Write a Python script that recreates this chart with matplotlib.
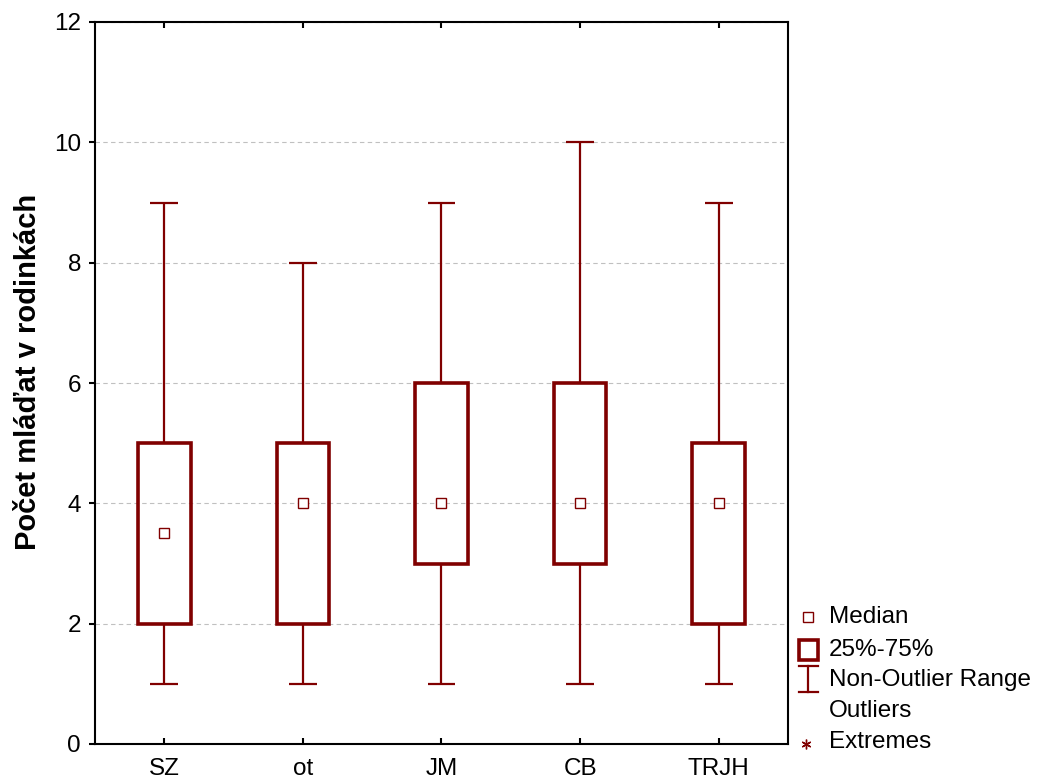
import matplotlib.pyplot as plt
from matplotlib.patches import Rectangle
from matplotlib.lines import Line2D

plt.rcParams['font.family'] = ['Liberation Sans', 'DejaVu Sans']

groups = ["SZ", "ot", "JM", "CB", "TRJH"]
medians = [3.5, 4, 4, 4, 4]
q1 = [2, 2, 3, 3, 2]
q3 = [5, 5, 6, 6, 5]
whisk_lo = [1, 1, 1, 1, 1]
whisk_hi = [9, 8, 9, 10, 9]

RED = "#800000"

fig = plt.figure(figsize=(10.41, 7.8), dpi=100)
ax = fig.add_axes([95 / 1041, 36 / 780, 693 / 1041, 722 / 780])

pos = list(range(1, len(groups) + 1))
box_w = 0.38
cap_w = 0.2
for x, m, lo, hi, wl, wh in zip(pos, medians, q1, q3, whisk_lo, whisk_hi):
    ax.vlines(x, wl, lo, color=RED, lw=1.6, zorder=3)
    ax.vlines(x, hi, wh, color=RED, lw=1.6, zorder=3)
    ax.hlines([wl, wh], x - cap_w / 2, x + cap_w / 2, color=RED, lw=1.6, zorder=3)
    ax.add_patch(Rectangle((x - box_w / 2, lo), box_w, hi - lo, fill=False,
                           edgecolor=RED, lw=2.6, zorder=3))
    ax.plot(x, m, "s", ms=7, mfc="white", mec=RED, mew=1.0, zorder=4)

ax.set_xlim(0.5, len(groups) + 0.5)
ax.set_ylim(0, 12)
ax.set_xticks(pos, groups)
ax.set_yticks(range(0, 13, 2))
ax.yaxis.grid(True, color="#c0c0c0", ls=(0, (4, 3)), lw=0.8)
ax.set_axisbelow(True)
for sp in ax.spines.values():
    sp.set_linewidth(1.5)
ax.tick_params(axis="x", direction="in", top=True, length=4, width=1.5,
               labelsize=17.5, pad=10)
ax.tick_params(axis="y", direction="out", right=False, length=4, width=1.5,
               labelsize=17.5, pad=6)
ax.set_ylabel("Počet mláďat v rodinkách", fontsize=21, fontweight="bold")
ax.yaxis.set_label_coords(-0.0765, 0.515)

# legend drawn in figure pixels
def fx(px):
    return px / 1041

def fy(py):
    return 1 - py / 780

fig.add_artist(Line2D([fx(808)], [fy(617)], marker="s", ms=7, mfc="white",
                      mec=RED, mew=1.0, transform=fig.transFigure))
fig.add_artist(Rectangle((fx(799), fy(660)), fx(818) - fx(799), fy(640) - fy(660),
                         fill=False, edgecolor=RED, lw=2.6, transform=fig.transFigure))
fig.add_artist(Line2D([fx(808), fx(808)], [fy(666), fy(692)], color=RED, lw=1.6,
                      transform=fig.transFigure))
for yy in (666, 692):
    fig.add_artist(Line2D([fx(799), fx(818)], [fy(yy), fy(yy)], color=RED, lw=1.6,
                          transform=fig.transFigure))
fig.add_artist(Line2D([fx(806)], [fy(744)], marker=(6, 2, 0), ms=7, mec=RED, mew=1.0,
                      transform=fig.transFigure))

labels = ["Median", "25%-75%", "Non-Outlier Range", "Outliers", "Extremes"]
ys = [617, 650, 680, 711, 742]
for lab, yy in zip(labels, ys):
    fig.text(fx(829), fy(yy), lab, fontsize=17.5, va="center", ha="left")

fig.savefig("out.png", dpi=100)
